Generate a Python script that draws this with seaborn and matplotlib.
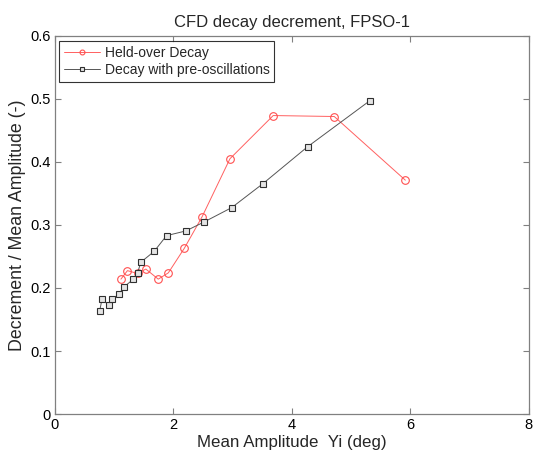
import matplotlib
matplotlib.use("Agg")
import matplotlib.pyplot as plt
import seaborn as sns
import pandas as pd

held_x = [1.12, 1.23, 1.40, 1.54, 1.75, 1.92, 2.19, 2.49, 2.96, 3.69, 4.72, 5.92]
held_y = [0.214, 0.2275, 0.223, 0.230, 0.214, 0.224, 0.263, 0.313, 0.405, 0.4735, 0.472, 0.371]

pre_x = [0.76, 0.80, 0.915, 0.972, 1.083, 1.178, 1.329, 1.40, 1.458, 1.68, 1.89, 2.216, 2.53, 2.99, 3.51, 4.27, 5.32]
pre_y = [0.163, 0.182, 0.173, 0.182, 0.190, 0.202, 0.214, 0.224, 0.241, 0.258, 0.283, 0.2905, 0.305, 0.3275, 0.365, 0.424, 0.497]

x_ticks = [0, 2, 4, 6, 8]
y_ticks = [0, 0.1, 0.2, 0.3, 0.4, 0.5, 0.6]
y_tick_labels = ["0", "0.1", "0.2", "0.3", "0.4", "0.5", "0.6"]

title = "CFD decay decrement, FPSO-1"
xlabel = "Mean Amplitude  Yi (deg)"
ylabel = "Decrement / Mean Amplitude (-)"
labels = ["Held-over Decay", "Decay with pre-oscillations"]

sns.set_style("white")
plt.rcParams['font.family'] = ['Liberation Sans', 'DejaVu Sans']

fig = plt.figure(figsize=(5.35, 4.55), dpi=100)
ax = fig.add_axes([0.102, 0.090, 0.886, 0.8313])

df1 = pd.DataFrame({"x": held_x, "y": held_y})
df2 = pd.DataFrame({"x": pre_x, "y": pre_y})

sns.lineplot(data=df1, x="x", y="y", sort=False, estimator=None, ax=ax,
             color="#ff6060", linewidth=0.7, marker="o", markersize=5.5,
             markerfacecolor="none", markeredgecolor="#ff5050", markeredgewidth=0.8,
             label=labels[0])
sns.lineplot(data=df2, x="x", y="y", sort=False, estimator=None, ax=ax,
             color="#555555", linewidth=0.7, marker="s", markersize=4.2,
             markerfacecolor="#e4e4e4", markeredgecolor="#303030", markeredgewidth=0.8,
             label=labels[1])

ax.set_xlim(0, 8)
ax.set_ylim(0, 0.6)
ax.set_xticks(x_ticks)
ax.set_xticklabels([str(t) for t in x_ticks])
ax.set_yticks(y_ticks)
ax.set_yticklabels(y_tick_labels)
ax.tick_params(direction="in", length=4, width=0.8, color="#808080",
               top=True, right=True, bottom=True, left=True,
               labelsize=10.5, labelcolor="black", pad=3)
for s in ax.spines.values():
    s.set_color("#808080")
    s.set_linewidth(0.9)

ax.set_title(title, fontsize=12, pad=6)
ax.set_xlabel(xlabel, fontsize=12.2, labelpad=2)
ax.set_ylabel(ylabel, fontsize=12.8, labelpad=3)

leg = ax.legend(loc="upper left", fontsize=10, frameon=True, fancybox=False,
                edgecolor="black", handlelength=2.6, borderaxespad=0.35,
                borderpad=0.35, labelspacing=0.25, handletextpad=0.3)
leg.get_frame().set_linewidth(0.8)
for h in leg.legend_handles:
    h.set_markersize(3.5)

fig.savefig("out.png", dpi=100)
